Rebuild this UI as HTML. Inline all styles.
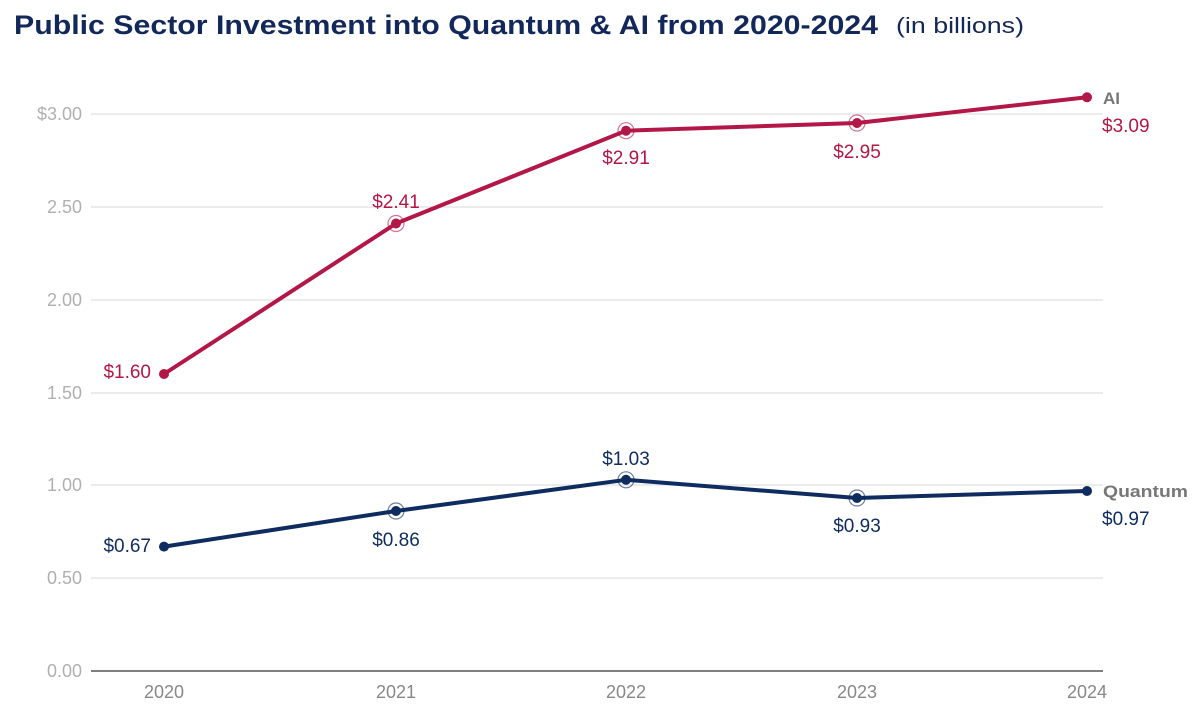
<!DOCTYPE html>
<html><head><meta charset="utf-8"><style>
html,body{margin:0;padding:0;background:#fff;}
svg{display:block;font-family:"Liberation Sans",sans-serif;}
</style></head><body>
<svg width="1200" height="720" viewBox="0 0 1200 720">
<text x="14" y="34" font-size="27" font-weight="bold" fill="#13285a" textLength="864" lengthAdjust="spacingAndGlyphs">Public Sector Investment into Quantum &amp; AI from 2020-2024</text>
<text x="896" y="33" font-size="22" fill="#13285a" textLength="128" lengthAdjust="spacingAndGlyphs">(in billions)</text>
<g stroke="#e6e6e6" stroke-width="1.5">
<line x1="91" x2="1103" y1="114" y2="114"/>
<line x1="91" x2="1103" y1="207" y2="207"/>
<line x1="91" x2="1103" y1="300" y2="300"/>
<line x1="91" x2="1103" y1="393" y2="393"/>
<line x1="91" x2="1103" y1="485" y2="485"/>
<line x1="91" x2="1103" y1="578" y2="578"/>
</g>
<line x1="91" x2="1103" y1="671" y2="671" stroke="#555" stroke-width="1.5"/>
<g font-size="18" fill="#b0b0b0" text-anchor="end">
<text x="82" y="120">$3.00</text>
<text x="82" y="213">2.50</text>
<text x="82" y="306">2.00</text>
<text x="82" y="399">1.50</text>
<text x="82" y="491">1.00</text>
<text x="82" y="584">0.50</text>
<text x="82" y="677">0.00</text>
</g>
<g font-size="18" fill="#888" text-anchor="middle">
<text x="164" y="698">2020</text>
<text x="396" y="698">2021</text>
<text x="626" y="698">2022</text>
<text x="857" y="698">2023</text>
<text x="1087" y="698">2024</text>
</g>
<polyline fill="none" stroke="#b31747" stroke-width="4" stroke-linejoin="round" points="164,374 396,223.5 626,130.7 857,123 1087,97.3"/>
<polyline fill="none" stroke="#0e2c5f" stroke-width="4" stroke-linejoin="round" points="164,546.6 396,511 626,479.8 857,498 1087,491"/>
<g fill="none" stroke-width="1.2">
<circle cx="396" cy="223.5" r="8" stroke="#b31747" opacity="0.6"/>
<circle cx="626" cy="130.7" r="8" stroke="#b31747" opacity="0.6"/>
<circle cx="857" cy="123" r="8" stroke="#b31747" opacity="0.6"/>
<circle cx="396" cy="511" r="8" stroke="#0e2c5f" opacity="0.6"/>
<circle cx="626" cy="479.8" r="8" stroke="#0e2c5f" opacity="0.6"/>
<circle cx="857" cy="498" r="8" stroke="#0e2c5f" opacity="0.6"/>
</g>
<g fill="#b31747">
<circle cx="164" cy="374" r="5"/><circle cx="396" cy="223.5" r="5"/><circle cx="626" cy="130.7" r="5"/><circle cx="857" cy="123" r="5"/><circle cx="1087" cy="97.3" r="5"/>
</g>
<g fill="#0e2c5f">
<circle cx="164" cy="546.6" r="5"/><circle cx="396" cy="511" r="5"/><circle cx="626" cy="479.8" r="5"/><circle cx="857" cy="498" r="5"/><circle cx="1087" cy="491" r="5"/>
</g>
<g font-size="19" fill="#b31747">
<text x="151" y="378" text-anchor="end">$1.60</text>
<text x="396" y="208" text-anchor="middle">$2.41</text>
<text x="626" y="164" text-anchor="middle">$2.91</text>
<text x="857" y="158" text-anchor="middle">$2.95</text>
<text x="1102" y="132">$3.09</text>
<text x="1103" y="104" font-weight="bold" font-size="17" fill="#777">AI</text>
</g>
<g font-size="19" fill="#0e2c5f">
<text x="151" y="552" text-anchor="end">$0.67</text>
<text x="396" y="546" text-anchor="middle">$0.86</text>
<text x="626" y="465" text-anchor="middle">$1.03</text>
<text x="857" y="532" text-anchor="middle">$0.93</text>
<text x="1102" y="525">$0.97</text>
<text x="1103" y="497" font-weight="bold" font-size="17" fill="#777" textLength="85" lengthAdjust="spacingAndGlyphs">Quantum</text>
</g>
</svg>
</body></html>
